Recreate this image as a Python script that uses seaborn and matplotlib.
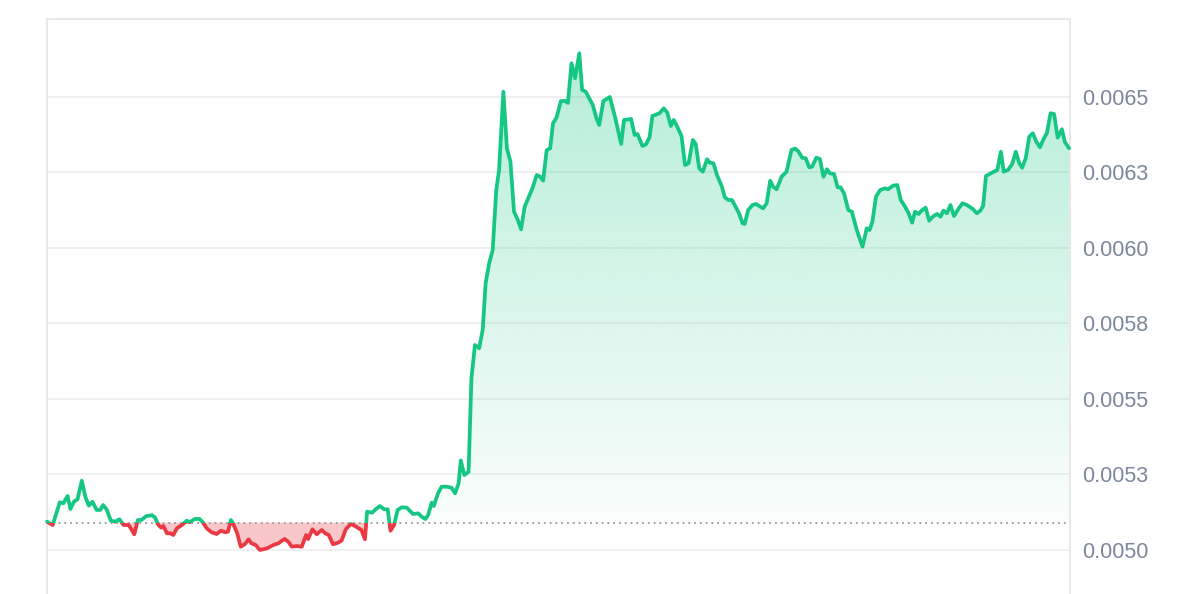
import numpy as np
import pandas as pd
import matplotlib
matplotlib.use("Agg")
import matplotlib.pyplot as plt
import seaborn as sns
from matplotlib.patches import Rectangle, Polygon
from matplotlib.colors import to_rgb

# ---- data (minutes since window start, price) ----
minutes = [0, 8, 18, 23, 29, 33, 38, 43, 49, 54, 59, 64, 70, 75, 79, 84, 90, 96, 102, 108,
           115, 119, 123, 128, 133, 140, 148, 152, 157, 161, 164, 169, 174, 178, 183, 190, 197, 201, 208, 215,
           220, 225, 232, 239, 245, 251, 255, 259, 262, 268, 273, 279, 284, 288, 294, 300, 310, 319, 326, 331,
           335, 340, 345, 352, 359, 365, 368, 374, 380, 387, 392, 397, 403, 410, 415, 421, 428, 434, 439, 443,
           448, 451, 458, 462, 469, 475, 480, 484, 489, 494, 500, 507, 511, 516, 523, 528, 533, 537, 542, 545,
           551, 556, 563, 570, 575, 580, 583, 588, 594, 598, 603, 609, 614, 618, 623, 628, 633, 637, 643, 648,
           653, 658, 663, 668, 673, 678, 684, 690, 695, 699, 704, 709, 713, 718, 724, 730, 734, 739, 744, 750,
           754, 759, 764, 769, 774, 778, 784, 793, 800, 809, 813, 823, 828, 832, 839, 844, 849, 853, 863, 869,
           874, 879, 883, 888, 894, 899, 904, 910, 914, 919, 924, 930, 934, 939, 944, 951, 955, 960, 965, 969,
           975, 980, 983, 988, 994, 999, 1005, 1009, 1014, 1019, 1023, 1028, 1035, 1042, 1049, 1054, 1059, 1064, 1069, 1074,
           1078, 1084, 1089, 1094, 1099, 1103, 1109, 1114, 1118, 1123, 1129, 1134, 1141, 1149, 1155, 1159, 1163, 1168, 1174, 1181,
           1185, 1192, 1198, 1203, 1209, 1214, 1219, 1223, 1228, 1232, 1238, 1243, 1248, 1254, 1259, 1263, 1268, 1273, 1278, 1284,
           1290, 1296, 1301, 1305, 1310, 1315, 1319, 1323, 1330, 1334, 1339, 1344, 1348, 1354, 1360, 1365, 1370, 1374, 1379, 1384,
           1389, 1394, 1399, 1404, 1409, 1414, 1419, 1424, 1430, 1434, 1440]

price = [0.0050937, 0.0050827, 0.0051578, 0.0051545, 0.0051787, 0.0051357, 0.0051598, 0.0051678, 0.0052293, 0.0051764,
         0.0051466, 0.0051598, 0.0051324, 0.0051324, 0.0051489, 0.0051347, 0.0050970, 0.0050937, 0.0051016, 0.0050827,
         0.0050827, 0.0050685, 0.0050520, 0.0050993, 0.0050993, 0.0051125, 0.0051148, 0.0051082, 0.0050827, 0.0050738,
         0.0050794, 0.0050553, 0.0050553, 0.0050496, 0.0050718, 0.0050827, 0.0050970, 0.0050917, 0.0051026, 0.0051026,
         0.0050903, 0.0050718, 0.0050586, 0.0050529, 0.0050639, 0.0050586, 0.0050606, 0.0050993, 0.0050884, 0.0050553,
         0.0050109, 0.0050199, 0.0050354, 0.0050222, 0.0050165, 0.0050000, 0.0050056, 0.0050165, 0.0050222, 0.0050308,
         0.0050364, 0.0050275, 0.0050109, 0.0050132, 0.0050109, 0.0050496, 0.0050364, 0.0050685, 0.0050520, 0.0050662,
         0.0050553, 0.0050496, 0.0050189, 0.0050242, 0.0050308, 0.0050685, 0.0050860, 0.0050794, 0.0050718, 0.0050662,
         0.0050354, 0.0051267, 0.0051234, 0.0051324, 0.0051456, 0.0051347, 0.0051347, 0.0050639, 0.0050827, 0.0051324,
         0.0051413, 0.0051400, 0.0051300, 0.0051191, 0.0051214, 0.0051102, 0.0051026, 0.0051158, 0.0051565, 0.0051456,
         0.0051876, 0.0052095, 0.0052095, 0.0052062, 0.0051876, 0.0052207, 0.0052962, 0.0052482, 0.0052591, 0.0055682,
         0.0056784, 0.0056675, 0.0057303, 0.0058825, 0.0059487, 0.0059927, 0.0061913, 0.0062575, 0.0065166, 0.0063293,
         0.0062849, 0.0061195, 0.0060943, 0.0060612, 0.0061360, 0.0061638, 0.0061969, 0.0062409, 0.0062353, 0.0062221,
         0.0063227, 0.0063293, 0.0064120, 0.0064312, 0.0064858, 0.0064858, 0.0064792, 0.0066105, 0.0065609, 0.0066436,
         0.0065222, 0.0065166, 0.0064947, 0.0064726, 0.0064295, 0.0064064, 0.0064858, 0.0064990, 0.0064362, 0.0063435,
         0.0064229, 0.0064262, 0.0063733, 0.0063766, 0.0063369, 0.0063425, 0.0063657, 0.0064362, 0.0064451, 0.0064616,
         0.0064471, 0.0064031, 0.0064229, 0.0064007, 0.0063700, 0.0062740, 0.0062796, 0.0063567, 0.0063435, 0.0062631,
         0.0062518, 0.0062929, 0.0062816, 0.0062796, 0.0062409, 0.0062022, 0.0061671, 0.0061582, 0.0061582, 0.0061416,
         0.0061142, 0.0060811, 0.0060788, 0.0061251, 0.0061416, 0.0061450, 0.0061360, 0.0061307, 0.0061473, 0.0062221,
         0.0062022, 0.0061936, 0.0062353, 0.0062518, 0.0063236, 0.0063286, 0.0063180, 0.0062982, 0.0062962, 0.0062664,
         0.0062684, 0.0062982, 0.0062939, 0.0062353, 0.0062598, 0.0062465, 0.0062442, 0.0062002, 0.0062002, 0.0061804,
         0.0061251, 0.0061195, 0.0060589, 0.0060037, 0.0060645, 0.0060589, 0.0060864, 0.0061691, 0.0061913, 0.0061969,
         0.0061936, 0.0062055, 0.0062078, 0.0061582, 0.0061360, 0.0061142, 0.0060831, 0.0061195, 0.0061119, 0.0061228,
         0.0061327, 0.0060897, 0.0061029, 0.0061119, 0.0061029, 0.0061228, 0.0061142, 0.0061416, 0.0061052, 0.0061284,
         0.0061473, 0.0061416, 0.0061340, 0.0061274, 0.0061142, 0.0061228, 0.0061383, 0.0062376, 0.0062465, 0.0062518,
         0.0062575, 0.0063180, 0.0062518, 0.0062575, 0.0062773, 0.0063180, 0.0062796, 0.0062651, 0.0062962, 0.0063677,
         0.0063789, 0.0063511, 0.0063326, 0.0063591, 0.0063809, 0.0064451, 0.0064428, 0.0063643, 0.0063921, 0.0063511,
         0.0063293]

open_price = 0.0050903
y_ticks = [0.0050, 0.00525, 0.0055, 0.00575, 0.0060, 0.00625, 0.0065]
y_tick_labels = ["0.0050", "0.0053", "0.0055", "0.0058", "0.0060", "0.0063", "0.0065"]

# ---- styling ----
GREEN = "#16c784"
RED = "#ea3943"
sns.set_theme(style="white")
plt.rcParams["font.family"] = ["Liberation Sans", "DejaVu Sans"]

fig = plt.figure(figsize=(12, 5.94), dpi=100)
ax = fig.add_axes([47 / 1200, 0.0, (1070 - 47) / 1200, (594 - 19) / 594])

df = pd.DataFrame({"minute": minutes, "price": price})
t = np.asarray(minutes, dtype=float)
p = np.asarray(price, dtype=float)

x_lo, x_hi = 0.0, 1441.4
y_lo, y_hi = 0.0048544, 0.0067571

# green gradient fill between baseline and line (above baseline)
grad = np.zeros((256, 1, 4))
grad[..., :3] = to_rgb(GREEN)
grad[..., 3] = np.linspace(0.32, 0.02, 256)[:, None]
im = ax.imshow(grad, extent=[t[0], t[-1], open_price, p.max()], aspect="auto",
               origin="upper", zorder=1, interpolation="bilinear")
clip_poly = Polygon([(t[0], y_lo)] + list(zip(t, p)) + [(t[-1], y_lo)], closed=True,
                    transform=ax.transData, facecolor="none", edgecolor="none")
ax.add_patch(clip_poly)
im.set_clip_path(clip_poly)

# red fill below baseline
ax.fill_between(t, p, open_price, where=p < open_price, interpolate=True,
                color=RED, alpha=0.28, lw=0, zorder=1)

# dotted baseline
ax.axhline(open_price, color="#999999", lw=1.3, ls=(0, (1, 2.2)), zorder=2)

# line, coloured by side of baseline
above = Rectangle((x_lo - 100, open_price), 5000, 1.0, transform=ax.transData)
below = Rectangle((x_lo - 100, open_price - 1.0), 5000, 1.0, transform=ax.transData)
for color, clip in [(GREEN, above), (RED, below)]:
    sns.lineplot(data=df, x="minute", y="price", ax=ax, color=color, lw=2.7,
                 estimator=None, sort=False, zorder=3)
    ln = ax.lines[-1]
    ln.set_solid_joinstyle("round")
    ln.set_solid_capstyle("round")
    ln.set_clip_path(clip)

ax.set_xlim(x_lo, x_hi)
ax.set_ylim(y_lo, y_hi)
ax.set_xticks([])
ax.set_yticks(y_ticks)
ax.set_yticklabels(y_tick_labels)
ax.yaxis.tick_right()
ax.tick_params(axis="y", length=0, pad=9.0, labelsize=15.5, labelcolor="#7c879b")
ax.grid(axis="y", color="#efefef", lw=1.3)
ax.set_axisbelow(True)
ax.set_xlabel("")
ax.set_ylabel("")
for side in ["top", "left", "right"]:
    ax.spines[side].set_visible(True)
    ax.spines[side].set_color("#e8e8e8")
    ax.spines[side].set_linewidth(1.5)
ax.spines["bottom"].set_visible(False)

fig.savefig("out.png", dpi=100)
